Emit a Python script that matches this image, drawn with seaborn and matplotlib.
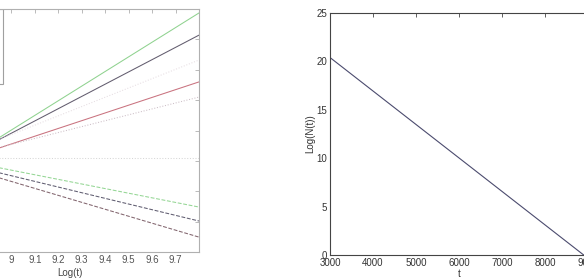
import numpy as np
import pandas as pd
import matplotlib
matplotlib.use("Agg")
import matplotlib.pyplot as plt
from matplotlib.patches import Rectangle
import seaborn as sns

# ── Data: left panel, Log(N) vs Log(t) ───────────────────────────────────────
log_t = [8.7, 9.8]
green_solid = [2.57, 7.87]
dark_solid = [2.70, 7.14]
light_dotted_up = [2.95, 6.32]
red_solid = [2.79, 5.60]
light_dotted_low = [2.96, 5.10]
flat_dotted = [3.09, 3.09]
green_dashed = [3.15, 1.48]
dark_dashed = [3.07, 1.02]
brown_dashed = [3.01, 0.49]

left_series = [
    ("green_solid", green_solid, "#8fd28f", "-"),
    ("dark_solid", dark_solid, "#625c6e", "-"),
    ("light_dotted_up", light_dotted_up, "#e6dde2", ":"),
    ("red_solid", red_solid, "#c9727f", "-"),
    ("light_dotted_low", light_dotted_low, "#cdbfc7", ":"),
    ("flat_dotted", flat_dotted, "#d6d6d6", ":"),
    ("green_dashed", green_dashed, "#94d694", "--"),
    ("dark_dashed", dark_dashed, "#5f5c70", "--"),
    ("brown_dashed", brown_dashed, "#82656e", "--"),
]

# ── Data: right panel, Log(N(t)) vs t ───────────────────────────────────────
t_vals = [3000, 8900]
log_n = [20.4, 0.0]

left_xticks = [8.7, 8.8, 8.9, 9.0, 9.1, 9.2, 9.3, 9.4, 9.5, 9.6, 9.7]
left_xlabels = ["", "", "", "9", "9.1", "9.2", "9.3", "9.4", "9.5", "9.6", "9.7"]
left_yticks = [0, 1, 2, 3, 4, 5, 6, 7, 8]
right_xticks = [3000, 4000, 5000, 6000, 7000, 8000, 9000]
right_yticks = [0, 5, 10, 15, 20, 25]

sns.set_style("white")
plt.rcParams["font.family"] = ["Liberation Sans Narrow", "Liberation Sans", "DejaVu Sans"]

fig = plt.figure(figsize=(5.84, 2.80), dpi=100)

# left axes deliberately starts outside the figure (cropped like the reference)
ax1 = fig.add_axes([-59 / 584, 28 / 280, 258 / 584, 243 / 280])
ax2 = fig.add_axes([330 / 584, 25 / 280, 258 / 584, 242 / 280])

for name, vals, col, ls in left_series:
    sns.lineplot(x=log_t, y=vals, ax=ax1, color=col, linestyle=ls, linewidth=0.75)

ax1.set_xlim(8.7, 9.8)
ax1.set_ylim(0, 8)
ax1.set_xticks(left_xticks)
ax1.set_xticklabels(left_xlabels)
ax1.set_yticks(left_yticks)
ax1.set_yticklabels([])
ax1.set_xlabel("Log(t)", fontsize=7, color="#444444", labelpad=2)

# legend frame (contents are cut off in the reference)
ax1.add_patch(Rectangle((0.01, 0.691), 0.232, 0.309, transform=ax1.transAxes,
                        fill=False, edgecolor="#a0a0a0", linewidth=0.8))

sns.lineplot(x=t_vals, y=log_n, ax=ax2, color="#4b4b6e", linewidth=0.8)
ax2.set_xlim(3000, 9000)
ax2.set_ylim(0, 25)
ax2.set_xticks(right_xticks)
ax2.set_yticks(right_yticks)
ax2.set_xlabel("t", fontsize=7, color="#333333", labelpad=1)
ax2.set_ylabel("Log(N(t))", fontsize=7, color="#333333", labelpad=1)

for ax, spc, tc in [(ax1, "#b0b0b0", "#555555"), (ax2, "#444444", "#333333")]:
    for s in ax.spines.values():
        s.set_visible(True)
        s.set_color(spc)
        s.set_linewidth(0.8)
    ax.tick_params(direction="in", length=3, width=0.6, top=True, right=True,
                   colors=spc, labelcolor=tc, labelsize=7, pad=2)
    ax.grid(False)

fig.savefig("out.png", dpi=100)
